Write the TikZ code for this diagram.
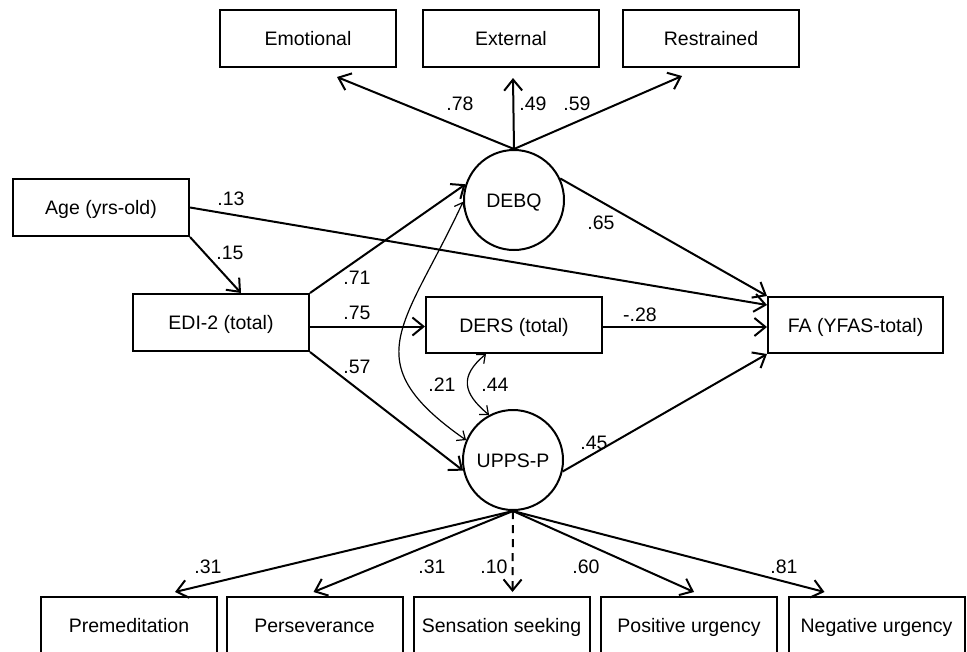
\documentclass[tikz,border=0pt]{standalone}
\usepackage{fontspec}
\setmainfont{Liberation Sans}
\usetikzlibrary{arrows.meta}

\begin{document}
\begin{tikzpicture}[x=1pt,y=-1pt,
    font=\fontsize{19.5}{23}\selectfont,
    obsbox/.style={draw, line width=2pt, minimum width=176pt, minimum height=57pt, inner sep=0pt, text height=14pt, text depth=0pt},
    latent/.style={draw, circle, line width=2pt, minimum size=100pt, inner sep=0pt, text height=14pt, text depth=0pt},
    effect/.style={line width=2pt, -{Straight Barb[length=11pt,width=18pt]}},
    corr/.style={line width=1.2pt, {Straight Barb[length=7pt,width=12pt]}-{Straight Barb[length=7pt,width=12pt]}},
    coef/.style={inner sep=0pt}]

    \useasboundingbox (0,0) rectangle (967,651);

    % Draw indicators of DEBQ
    \node[obsbox] (emo) at (308,38.5) {Emotional};
    \node[obsbox] (ext) at (511,38.5) {External};
    \node[obsbox] (res) at (711,38.5) {Restrained};

    % Draw latent variables
    \node[latent] (debq) at (514,200) {DEBQ};
    \node[latent] (upps) at (513,460) {UPPS-P};

    % Draw observed variables
    \node[obsbox] (age) at (101,207.5) {Age (yrs-old)};
    \node[obsbox] (edi) at (221,322.5) {EDI-2 (total)};
    \node[obsbox, minimum height=56pt] (ders) at (514,325) {DERS (total)};
    \node[obsbox, minimum width=175pt, minimum height=56pt] (fa) at (855.5,325) {FA (YFAS-total)};

    % Draw indicators of UPPS-P
    \node[obsbox] (prem) at (129,625.5) {Premeditation};
    \node[obsbox] (pers) at (314.5,625.5) {Perseverance};
    \node[obsbox] (sens) at (501.5,625.5) {Sensation seeking};
    \node[obsbox] (posu) at (689,625.5) {Positive urgency};
    \node[obsbox] (negu) at (876.5,625.5) {Negative urgency};

    % Loadings of DEBQ
    \draw[effect] (debq.north) -- ([xshift=29pt,yshift=-9pt]emo.south);
    \draw[effect] (debq.north) -- ([xshift=2pt,yshift=-10pt]ext.south);
    \draw[effect] (debq.north) -- ([xshift=-29pt,yshift=-8pt]res.south);
    \node[coef] (lemo) at (460,104) {.78};
    \node[coef] (lext) at (533,104) {.49};
    \node[coef] (lres) at (577,104) {.59};

    % Structural paths
    \draw[effect] (age.south east) -- ([xshift=20pt]edi.north);
    \draw[effect] (age.east) -- ([yshift=20pt]fa.west);
    \draw[effect] (edi.north east) -- (debq.162);
    \draw[effect] ([yshift=-4pt]edi.east) -- ([yshift=-4pt]edi.east -| ders.west);
    \draw[effect] (edi.south east) -- (upps.192);
    \draw[effect] (debq.25) -- (fa.north west);
    \draw[effect] ([yshift=-2pt]ders.east) -- ([yshift=-2pt]ders.east -| fa.west);
    \draw[effect] (upps.-13) -- (fa.south west);
    \node[coef] (lagefa) at (231,199) {.13};
    \node[coef] (lageedi) at (230,253) {.15};
    \node[coef] (ledidebq) at (357,278) {.71};
    \node[coef] (lediders) at (357,313) {.75};
    \node[coef] (lediupps) at (357,367) {.57};
    \node[coef] (ldebqfa) at (601,223) {.65};
    \node[coef] (ldersfa) at (640,315) {-.28};
    \node[coef] (luppsfa) at (594,443) {.45};

    % Covariances
    \draw[corr] (debq.182) .. controls +(-58,125) and +(-113,-79) .. (upps.157);
    \draw[corr] ([xshift=-28pt]ders.south) .. controls +(-26.5,22) and +(-26.5,-22) .. (upps.118);
    \node[coef] (ldebqupps) at (442,385) {.21};
    \node[coef] (ldersupps) at (495,385) {.44};

    % Loadings of UPPS-P
    \draw[effect] (upps.south) -- ([xshift=46pt,yshift=4pt]prem.north);
    \draw[effect] (upps.south) -- ([xshift=-1pt,yshift=4pt]pers.north);
    \draw[effect, dash pattern=on 8pt off 6pt] (upps.south) -- ([xshift=11pt,yshift=4pt]sens.north);
    \draw[effect] (upps.south) -- ([xshift=5pt,yshift=4pt]posu.north);
    \draw[effect] (upps.south) -- ([xshift=-52pt,yshift=4pt]negu.north);
    \node[coef] (lprem) at (208,567) {.31};
    \node[coef] (lpers) at (432,567) {.31};
    \node[coef] (lsens) at (494,567) {.10};
    \node[coef] (lposu) at (586,567) {.60};
    \node[coef] (lnegu) at (784,567) {.81};
\end{tikzpicture}
\end{document}
